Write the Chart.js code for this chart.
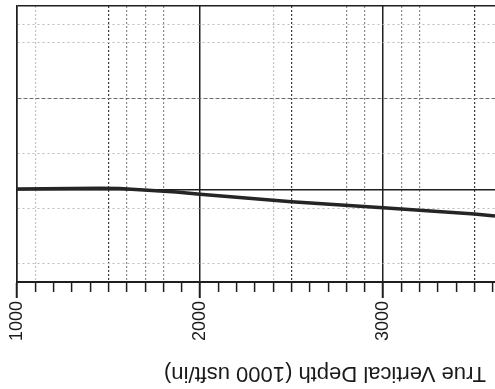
<!DOCTYPE html>
<html lang="en">

<head>
    <meta charset="utf-8">
    <title>True Vertical Depth</title>
    <script src="https://cdn.jsdelivr.net/npm/chart.js@4.4.1/dist/chart.umd.min.js"></script>
    <style>
        html,
        body {
            margin: 0;
            padding: 0;
            background-color: #ffffff;
        }

        #wrap {
            width: 495px;
            height: 389px;
        }
    </style>
</head>

<body>
    <div id="wrap">
        <canvas id="myChart" width="495" height="389"></canvas>
    </div>
</body>

<script>
    // well path
    var depth = [1000, 1450, 1560, 1870, 2000, 2500, 3000, 3500, 3612];
    var offset = [5, 10, 8, -11, -23, -64, -97, -130, -141];

    var axisTitle = "True Vertical Depth (1000 usft/in)";

    // x axis: tick every 100, label every 1000
    var xTicks = [1000, 1100, 1200, 1300, 1400, 1500, 1600, 1700, 1800, 1900,
        2000, 2100, 2200, 2300, 2400, 2500, 2600, 2700, 2800, 2900,
        3000, 3100, 3200, 3300, 3400, 3500, 3600];
    var xLabels = [1000, 2000, 3000];
    var xSolid = [1000, 2000, 3000];
    var xDotDark = [1500, 2500, 3500];
    var xDotMid = [1600, 1700, 1800, 2800, 2900, 3100, 3200];
    var xDotLight = [1100, 2400];

    // y grid lines that survived the scan
    var yTicks = [-500, -400, -100, 0, 200, 500, 800, 900, 1000];
    var ySolid = [0, 1000];
    var yDash = [500];
    var yLight = [-400, -100, 200, 800, 900];

    let xGridColor = (v) => {
        if (xSolid.includes(v)) return '#1e1e1e';
        if (xDotDark.includes(v)) return '#3a3a3a';
        if (xDotMid.includes(v)) return '#8a8a8a';
        if (xDotLight.includes(v)) return '#c4c4c4';
        return 'rgba(0,0,0,0)';
    };

    let yGridColor = (v) => {
        if (ySolid.includes(v)) return '#1e1e1e';
        if (yDash.includes(v)) return '#6e6e6e';
        if (yLight.includes(v)) return '#bdbdbd';
        return 'rgba(0,0,0,0)';
    };

    let flippedTitle = {
        id: 'flippedTitle',
        afterDraw(chart) {
            let ctx = chart.ctx;
            let area = chart.chartArea;
            ctx.save();
            ctx.translate(area.left + 308, chart.height - 22);
            ctx.rotate(Math.PI);
            ctx.font = '22px "Liberation Sans", Arial, sans-serif';
            ctx.fillStyle = '#1a1a1a';
            ctx.textAlign = 'center';
            ctx.textBaseline = 'alphabetic';
            ctx.fillText(axisTitle, 0, 0);
            ctx.restore();
        }
    };

    let showChart = () => {
        new Chart(document.getElementById('myChart'), {
            type: 'line',
            data: {
                datasets: [{
                    data: depth.map((d, i) => ({ x: d, y: offset[i] })),
                    borderColor: '#252525',
                    borderWidth: 3.5,
                    pointRadius: 0,
                    tension: 0,
                    fill: false
                }]
            },
            options: {
                responsive: false,
                animation: false,
                events: [],
                layout: { padding: { top: 6, left: 0, right: 0, bottom: 0 } },
                plugins: {
                    legend: { display: false },
                    tooltip: { enabled: false }
                },
                scales: {
                    x: {
                        type: 'linear',
                        min: 1000,
                        max: 3612,
                        afterBuildTicks: (scale) => {
                            scale.ticks = xTicks.map(v => ({ value: v }));
                        },
                        afterFit: (scale) => {
                            scale.height = 107;
                            scale.paddingLeft = 0;
                            scale.paddingRight = 0;
                        },
                        ticks: {
                            autoSkip: false,
                            minRotation: 90,
                            maxRotation: 90,
                            padding: 3,
                            color: '#1a1a1a',
                            font: { family: '"Liberation Sans", Arial, sans-serif', size: 18 },
                            callback: (v) => xLabels.includes(v) ? String(v) : ''
                        },
                        grid: {
                            color: (c) => xGridColor(c.tick.value),
                            lineWidth: (c) => xSolid.includes(c.tick.value) ? 1.5 : 1.2,
                            tickLength: 16,
                            tickColor: '#1e1e1e',
                            tickWidth: (c) => xLabels.includes(c.tick.value) ? 2 : 1.5,
                            tickBorderDash: (c) => xLabels.includes(c.tick.value) ? [] : [9, 40]
                        },
                        border: {
                            color: '#1e1e1e',
                            width: 2,
                            dash: (c) => (c.tick && !xSolid.includes(c.tick.value)) ? [2, 2] : []
                        }
                    },
                    y: {
                        type: 'linear',
                        min: -500,
                        max: 1000,
                        afterBuildTicks: (scale) => {
                            scale.ticks = yTicks.map(v => ({ value: v }));
                        },
                        afterFit: (scale) => {
                            scale.width = 17;
                            scale.paddingTop = 0;
                            scale.paddingBottom = 0;
                        },
                        ticks: { display: false },
                        grid: {
                            color: (c) => yGridColor(c.tick.value),
                            lineWidth: (c) => ySolid.includes(c.tick.value) ? 1.5 : 1,
                            drawTicks: false
                        },
                        border: {
                            color: '#1e1e1e',
                            width: 1.5,
                            dash: (c) => {
                                if (!c.tick || ySolid.includes(c.tick.value)) return [];
                                if (yDash.includes(c.tick.value)) return [4, 2];
                                return [2, 3];
                            }
                        }
                    }
                }
            },
            plugins: [flippedTitle]
        });
    };

    showChart();
</script>

</html>
